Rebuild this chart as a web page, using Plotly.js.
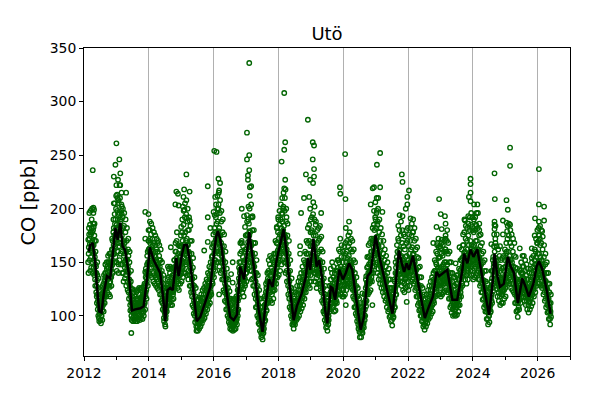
<!DOCTYPE html>
<html>
<head>
<meta charset="utf-8">
<script src="https://cdn.plot.ly/plotly-3.0.1.min.js"></script>
<style>html,body{margin:0;padding:0;background:#fff;}#chart{width:600px;height:400px;}</style>
</head>
<body>
<div id="chart"></div>
<script>
// Smoothed CO curve (decimal year, ppb)
const lineYear = [2012.15,2012.19,2012.27,2012.35,2012.40,2012.47,2012.54,2012.61,2012.71,2012.81,2012.88,2012.97,
2013.04,2013.12,2013.19,2013.27,2013.38,2013.48,2013.58,2013.74,2013.84,2013.94,
2014.03,2014.15,2014.25,2014.35,2014.44,2014.51,2014.58,2014.66,2014.74,2014.85,2014.92,
2015.02,2015.09,2015.18,2015.28,2015.38,2015.48,2015.59,2015.74,2015.90,
2016.00,2016.08,2016.13,2016.20,2016.26,2016.36,2016.51,2016.62,2016.72,2016.82,2016.94,
2017.10,2017.20,2017.28,2017.39,2017.51,2017.61,2017.71,2017.82,2017.95,
2018.05,2018.16,2018.26,2018.36,2018.47,2018.57,2018.72,2018.85,2018.91,2018.98,
2019.08,2019.18,2019.26,2019.34,2019.44,2019.51,2019.62,2019.67,2019.75,2019.88,2019.99,
2020.08,2020.18,2020.28,2020.39,2020.54,2020.64,2020.75,2020.85,2020.92,
2021.00,2021.11,2021.26,2021.41,2021.52,2021.62,2021.72,2021.80,2021.88,2021.96,
2022.03,2022.15,2022.25,2022.36,2022.52,2022.65,2022.77,2022.88,2022.96,
2023.21,2023.37,2023.52,2023.68,2023.73,2023.83,2023.93,
2024.02,2024.14,2024.29,2024.40,2024.50,2024.61,2024.67,2024.76,2024.84,2024.96,
2025.08,2025.17,2025.27,2025.39,2025.53,2025.63,2025.73,2025.87,2025.97,
2026.04,2026.14,2026.28,2026.40];
const lineCO = [160,166,168,149,127,104,103,121,137,135,155,182,
171,187,165,161,140,105,106,107,109,133,
164,152,146,140,118,95,124,126,124,154,137,
157,166,166,149,121,95,99,112,127,
155,174,179,172,162,131,99,96,101,146,134,
178,155,137,106,85,112,134,127,153,
166,181,158,124,96,109,121,137,154,143,
172,146,152,137,106,93,127,126,115,143,134,
140,149,143,118,87,99,137,141,158,
175,156,137,118,102,130,161,150,141,149,
143,156,140,120,98,109,118,141,137,
143,115,115,143,158,149,162,
155,162,137,118,101,130,158,137,127,130,
155,146,140,112,135,127,118,130,146,
151,144,124,102];

// Observations: half-month groups of eight readings, starting mid-February 2012
const obsStart = 2012.125;
const groupsPerYear = 24;
const obsCO = [
// 2012
[150,171,140,158,164,182,176,196],[172,152,167,185,142,161,198,178],[155,176,145,163,168,190,182,200],[178,150,170,165,140,160,186,196],
[145,166,158,152,138,175,186,170],[155,134,128,148,160,140,170,146],[122,140,128,118,112,133,150,138],[120,106,114,126,100,110,135,118],
[98,110,95,102,105,116,124,108],[108,96,103,113,93,100,120,110],[100,115,108,105,96,121,128,112],[125,110,119,130,104,116,138,122],
[118,133,112,124,128,140,148,136],[140,125,133,136,118,128,150,144],[129,146,122,134,138,141,156,150],[144,128,136,138,120,150,158,131],
[127,141,118,132,136,148,158,144],[155,136,128,150,147,162,172,141],[148,170,140,157,162,178,190,166],[182,158,150,175,171,195,205,186],
[165,190,155,176,181,200,212,170],
// 2013
[150,185,142,168,178,198,210,160],[190,160,176,178,140,148,205,168],[165,196,152,178,184,210,222,190],[158,188,148,172,180,204,215,195],
[175,148,140,160,166,192,200,182],[140,170,132,156,164,184,196,150],[168,145,135,158,161,178,190,152],[138,160,128,148,153,170,182,144],
[152,132,124,142,146,162,172,156],[122,140,116,130,134,150,160,128],[126,110,105,120,118,132,142,114],[100,112,96,104,107,118,125,110],
[110,98,95,106,103,115,122,112],[100,110,96,103,107,118,124,112],[112,98,95,108,106,104,122,116],[99,110,95,104,107,116,124,112],
[112,100,97,108,106,120,126,115],[101,112,96,105,108,117,125,113],[114,100,98,110,108,104,126,118],[102,113,97,106,109,120,127,116],
[116,104,100,110,112,124,130,120],[112,128,106,118,122,136,144,130],[140,124,116,135,132,148,156,142],[138,160,128,150,148,170,180,162],
// 2014
[150,170,140,160,163,180,188,172],[168,148,138,158,161,176,186,152],[145,162,136,152,157,172,182,166],[160,140,132,150,153,168,178,145],
[138,156,130,148,151,166,175,160],[155,136,128,145,148,162,172,140],[134,150,126,142,146,160,170,138],[148,132,124,140,143,156,166,152],
[128,146,120,136,140,152,162,133],[136,120,114,128,131,142,150,125],[112,124,106,116,120,130,138,126],[110,98,95,104,106,115,122,102],
[92,104,90,97,100,110,116,106],[122,108,104,115,118,128,134,112],[116,130,110,122,126,136,144,120],[132,118,112,127,125,140,146,122],
[117,130,110,122,126,136,144,128],[130,115,110,125,123,138,145,120],[122,138,116,130,133,145,152,126],[152,134,128,145,146,160,168,140],
[142,160,134,150,154,170,178,148],[150,132,126,142,144,158,166,137],[130,148,124,138,142,155,165,146],[156,138,130,148,150,165,175,144],
// 2015
[140,165,132,152,158,178,190,146],[170,145,136,160,163,185,198,154],[150,175,140,162,167,192,205,158],[178,148,140,165,170,195,208,156],
[150,172,138,160,166,188,200,180],[166,142,134,155,160,180,192,150],[138,158,128,146,151,170,184,144],[148,128,122,138,142,158,170,134],
[118,135,110,125,129,145,154,122],[122,108,102,114,117,128,136,112],[100,112,94,104,107,118,126,110],[102,90,86,97,96,108,115,93],
[90,102,86,95,97,108,115,100],[104,92,88,99,98,110,117,95],[94,106,90,100,101,114,120,97],[110,97,93,104,105,116,124,100],
[100,112,96,106,108,120,126,103],[117,104,98,110,112,124,130,107],[107,120,102,114,116,128,134,111],[125,111,106,118,120,132,140,115],
[115,130,110,121,124,138,146,119],[134,118,112,126,128,142,150,122],[128,145,120,136,139,155,164,132],[156,138,130,148,150,166,176,143],
// 2016
[145,168,136,158,161,182,194,152],[178,152,142,166,171,192,204,160],[160,186,150,172,178,200,212,168],[188,160,150,175,179,204,215,168],
[158,182,146,170,175,196,208,164],[175,150,140,162,168,188,198,156],[142,165,134,155,159,178,190,150],[152,134,124,143,146,165,176,138],
[122,140,114,130,134,150,160,126],[128,113,106,120,123,135,144,117],[106,120,100,112,115,126,134,109],[110,98,94,104,106,116,123,101],
[92,104,88,97,99,110,116,94],[102,91,87,96,98,108,115,93],[90,101,86,95,97,107,114,92],[103,91,87,98,97,109,116,94],
[93,105,88,98,100,112,118,96],[110,97,92,103,105,116,124,100],[114,128,106,120,123,135,145,117],[150,132,124,140,143,158,168,136],
[134,150,126,142,144,160,170,138],[146,128,122,138,140,155,165,134],[125,142,118,133,136,150,160,130],[152,135,128,144,146,162,175,140],
// 2017
[140,162,132,152,156,175,188,147],[176,152,144,165,169,190,202,158],[160,186,150,175,179,200,212,168],[178,150,142,165,169,192,204,158],
[142,166,134,155,159,180,192,150],[156,135,128,146,149,168,180,141],[128,146,120,136,140,158,168,132],[132,116,108,124,127,140,152,120],
[108,122,100,114,117,128,138,111],[110,98,93,104,106,116,124,101],[92,104,86,97,99,108,116,94],[96,84,80,90,91,100,108,87],
[82,92,78,86,88,97,104,84],[104,92,88,98,100,110,118,95],[102,116,96,108,111,122,130,105],[126,112,105,118,121,132,140,115],
[120,135,112,127,130,142,152,124],[140,124,116,132,134,148,156,128],[122,138,114,130,132,145,154,126],[134,120,112,127,129,142,152,123],
[124,140,116,131,134,148,158,128],[150,132,124,140,143,158,170,136],[140,158,130,148,152,168,182,145],[168,148,136,158,161,178,192,153],
// 2018
[150,172,138,160,164,185,198,156],[176,152,142,165,169,190,204,160],[158,182,148,172,175,196,210,166],[188,162,152,176,180,202,215,170],
[160,184,150,172,176,198,210,166],[174,150,140,163,167,188,200,158],[142,162,132,152,156,175,186,148],[148,128,120,138,141,158,170,133],
[116,132,108,124,127,142,152,120],[120,106,100,112,115,126,135,109],[97,108,92,102,104,114,122,99],[104,92,88,97,99,108,116,94],
[96,108,92,102,104,114,122,99],[114,100,96,107,109,120,128,104],[104,116,98,110,112,124,132,107],[120,106,100,113,115,128,136,110],
[110,124,104,116,119,132,140,113],[128,114,107,120,123,136,146,117],[118,134,110,125,128,142,152,122],[140,124,116,132,134,150,160,128],
[130,148,122,138,141,158,170,134],[158,138,130,148,151,168,182,144],[138,158,128,146,151,170,185,143],[152,132,126,142,146,165,178,138],
// 2019
[142,165,132,152,156,180,192,148],[178,150,142,165,169,195,206,160],[150,175,140,162,166,190,202,156],[164,140,132,152,155,175,188,147],
[135,155,126,145,148,168,180,140],[158,138,130,148,151,170,182,143],[140,160,130,148,152,172,184,144],[150,130,124,140,144,162,174,136],
[122,140,114,130,133,150,160,126],[126,112,104,118,121,135,144,115],[102,114,96,106,109,120,128,104],[104,93,89,98,100,110,117,95],
[90,102,86,95,97,107,114,92],[114,100,96,106,109,120,128,104],[112,128,106,119,122,134,144,116],[134,118,112,125,128,140,150,122],
[115,130,108,121,124,136,146,118],[124,110,104,117,119,130,140,113],[112,126,105,118,120,134,142,114],[135,120,112,126,129,142,152,123],
[128,145,120,135,138,152,162,131],[150,132,124,140,143,160,172,136],[128,146,120,137,140,155,166,133],[142,125,118,133,136,150,160,129],
// 2020
[124,144,118,132,137,155,165,128],[146,128,120,137,140,158,168,133],[130,150,124,140,143,160,170,136],[154,134,128,144,147,165,175,140],
[136,156,130,146,150,168,178,142],[152,134,128,144,147,162,172,139],[132,150,126,141,145,160,170,137],[142,124,118,133,136,152,162,129],
[116,132,108,124,127,140,150,120],[122,108,102,114,117,128,136,111],[100,112,95,106,108,118,126,103],[104,92,88,97,99,108,116,94],
[85,95,80,89,91,100,108,87],[96,84,80,89,91,100,108,87],[88,100,84,93,95,105,112,91],[106,93,89,99,101,112,120,96],
[106,120,100,112,115,126,134,109],[137,120,114,128,131,145,155,124],[130,146,120,137,140,155,166,133],[148,130,122,138,141,156,168,134],
[132,150,124,140,143,160,172,136],[160,140,132,150,153,170,182,146],[150,172,140,160,164,185,198,156],[180,158,146,168,172,192,206,163],
// 2021
[158,182,148,170,173,196,210,165],[174,150,140,162,166,188,200,157],[144,165,134,155,158,178,190,150],[160,138,130,148,152,170,182,145],
[134,154,126,144,147,165,176,140],[148,130,122,139,142,158,170,135],[126,142,118,134,137,152,162,130],[138,122,114,129,132,146,156,126],
[116,132,108,123,126,140,150,120],[126,112,104,118,121,134,144,115],[106,118,99,111,114,126,134,108],[112,100,95,106,108,118,126,103],
[96,108,91,101,103,114,121,98],[120,105,99,111,114,126,134,108],[116,132,108,123,126,140,150,120],[145,128,120,136,139,155,166,132],
[140,160,130,148,152,172,184,145],[170,148,138,158,161,180,194,153],[142,162,132,152,155,175,188,147],[156,136,128,146,149,168,180,141],
[132,152,124,142,145,165,176,138],[150,130,122,140,143,162,174,135],[134,155,126,144,147,168,180,140],[156,136,128,146,149,170,182,141],
// 2022
[132,152,124,142,145,165,176,138],[158,136,128,147,150,170,182,142],[140,162,132,150,154,175,186,146],[164,142,134,154,157,178,190,149],
[138,158,130,148,151,170,182,144],[150,132,124,141,144,162,172,137],[126,143,118,134,137,155,164,130],[135,118,110,126,129,145,154,122],
[112,128,105,119,122,136,146,116],[120,106,100,112,115,128,136,109],[100,112,95,105,108,118,126,103],[106,95,90,101,103,112,120,98],
[92,103,87,97,99,108,116,94],[106,95,90,100,102,112,120,97],[98,110,93,104,106,116,124,101],[114,102,97,108,110,120,128,105],
[105,118,99,110,113,124,132,108],[120,108,102,114,116,128,136,111],[110,124,104,117,119,132,140,114],[134,118,112,125,128,142,152,122],
[126,142,118,133,136,150,160,130],[148,130,122,139,142,158,168,135],[128,145,120,136,139,154,164,132],[145,128,120,136,139,155,165,132],
// 2023
[126,145,118,136,139,158,168,131],[146,128,120,137,140,156,166,133],[130,148,122,138,141,160,170,134],[150,130,123,140,142,162,172,135],
[132,150,124,140,143,160,170,136],[148,130,122,138,141,158,168,134],[124,140,116,131,134,150,160,128],[132,116,108,123,126,140,150,120],
[110,124,103,116,119,132,140,113],[120,106,100,113,116,128,136,110],[108,120,101,113,116,128,136,110],[121,106,100,114,116,130,138,110],
[108,122,101,113,116,130,138,110],[126,110,104,118,121,134,144,115],[118,134,110,125,128,142,152,122],[143,126,118,134,137,152,162,130],
[136,154,128,144,147,166,176,140],[166,146,138,156,159,178,190,151],[142,160,134,150,154,172,184,147],[158,138,130,148,151,170,182,144],
[142,162,134,150,154,175,186,147],[166,146,138,156,159,180,192,151],[150,170,142,160,163,185,196,155],[166,146,138,156,159,180,192,151],
// 2024
[142,165,134,152,156,178,190,148],[166,144,136,155,158,180,192,150],[146,170,138,158,161,184,196,153],[170,148,140,158,162,182,196,154],
[142,162,134,152,155,175,186,147],[154,134,128,144,147,165,176,140],[130,148,122,138,141,158,168,134],[140,122,115,130,133,150,160,126],
[116,133,108,124,127,142,152,120],[125,110,104,117,120,132,142,114],[104,116,97,109,112,124,130,106],[110,97,92,103,105,115,122,100],
[100,112,94,106,108,118,126,103],[125,110,104,117,120,132,142,114],[120,135,112,126,129,142,152,123],[155,138,130,146,149,165,176,142],
[142,160,134,150,154,172,184,147],[154,134,128,144,147,165,176,140],[125,142,118,133,136,152,162,130],[138,122,114,129,132,146,156,126],
[118,134,110,125,128,142,152,122],[135,120,112,126,129,144,154,123],[120,136,112,127,130,145,156,124],[142,124,116,132,135,152,162,129],
// 2025
[126,146,118,136,139,158,168,131],[160,138,132,148,152,172,184,145],[140,160,132,150,153,175,186,146],[156,136,130,146,149,168,180,142],
[134,152,126,143,146,165,176,139],[150,130,124,140,143,160,172,136],[130,146,122,138,141,156,168,134],[136,120,112,128,131,145,155,124],
[112,126,104,118,121,134,144,115],[118,105,99,112,114,124,132,108],[114,126,106,120,122,132,142,116],[134,120,112,126,129,140,150,123],
[126,140,118,132,135,146,156,129],[140,125,117,131,134,146,156,128],[122,135,114,127,130,142,152,124],[131,117,110,123,126,138,148,120],
[114,127,106,119,122,134,144,116],[124,110,103,116,119,130,140,113],[113,127,106,119,122,134,144,116],[132,117,109,123,126,140,150,120],
[120,136,112,127,130,145,156,124],[142,126,118,133,136,152,162,130],[130,148,122,139,142,160,172,135],[155,135,128,145,148,168,180,141],
// 2026
[136,158,130,147,150,170,182,143],[158,138,130,148,151,172,184,144],[136,155,128,145,148,168,180,141],[152,132,126,142,145,162,174,138],
[128,146,120,136,139,155,166,132],[140,122,114,130,133,148,158,126],[116,132,108,124,127,140,150,120],[125,110,103,117,120,130,140,114],
[104,116,97,109,112,122,130,106],[108,97,92,102,104,112,120,99]
];

// Individual high / low readings away from the main band
const peakYear = [2012.27,2012.29,2012.31,2012.30,2012.28,
2013.00,2013.09,2012.97,2013.12,2012.92,2013.05,2013.00,2013.10,2013.30,2013.02,2012.92,2013.06,2013.17,2013.89,2013.99,2013.89,2013.89,2013.46,2013.05,2013.15,
2014.28,2014.59,2014.68,2015.16,2014.85,2014.90,2015.09,2015.26,2015.07,2014.82,2014.92,2015.05,2015.10,2015.17,2015.00,2015.26,2015.82,2015.82,2016.02,2016.09,2016.00,2015.90,2015.82,2015.71,
2017.10,2017.03,2017.10,2017.03,2017.10,2017.06,2017.16,2017.12,2017.06,2016.15,2016.20,2016.17,2016.05,2016.87,2016.94,2017.03,2017.20,2016.97,2016.87,2016.59,2016.54,2016.59,2016.17,2016.10,2016.15,
2018.18,2018.21,2018.18,2018.10,2018.21,2018.18,2018.22,2018.91,2019.06,2019.10,2019.06,2019.10,2018.85,2018.98,2019.10,2019.07,2018.79,2018.95,2018.70,2018.98,2019.32,2020.06,2019.90,2019.91,2020.07,2018.67,2018.67,
2017.95,2018.00,2018.12,2018.15,2018.25,2019.00,2019.15,
2021.14,2021.04,2020.95,2020.91,2021.14,2021.08,2020.85,2021.04,2021.21,2020.18,2020.08,2021.81,2021.83,2022.03,2021.93,2021.83,2021.98,2021.98,2021.96,2020.08,2020.90,2020.59,2021.00,2021.05,
2022.08,2022.15,2022.96,2023.01,2023.14,2022.88,2023.04,2023.16,2023.21,2022.94,2023.04,2023.16,2022.78,2022.90,2023.01,2023.16,2022.96,2023.47,2023.59,2023.93,2023.93,2023.93,2024.04,2023.88,2023.76,2023.86,2023.93,
2025.15,2025.15,2024.67,2026.04,2024.68,2025.04,2025.08,2024.93,2025.04,2025.15,2024.93,2025.06,2024.67,2024.67,2024.67,2024.70,2024.57,2024.84,2024.14,2023.99,2024.10,2024.20,
2026.04,2026.20,2025.92,2026.04,2026.20,2025.91,2026.04,2026.14,2025.45,2025.82,2025.82,2025.99,2026.08];
const peakCO = [236,201,199,183,180,
261,246,241,233,230,227,222,222,215,213,205,208,202,197,195,172,141,84,195,198,
168,146,164,232,216,214,218,216,211,204,203,202,199,191,183,189,221,192,254,253,197,182,169,161,
336,271,250,246,236,231,221,220,227,228,224,217,211,200,193,194,193,183,168,150,139,131,120,195,200,
308,262,255,244,227,219,218,283,262,259,246,237,232,227,230,224,210,211,196,200,196,251,220,214,209,165,158,
183,190,195,200,192,190,185,
252,241,220,219,220,210,204,198,197,188,182,232,225,217,200,193,204,211,113,110,110,121,190,185,
191,178,209,195,193,183,181,186,180,172,171,175,168,166,163,162,155,149,164,228,223,215,204,211,189,193,207,
257,240,233,237,209,208,199,189,187,185,176,179,188,185,181,168,167,165,204,183,185,180,
204,202,191,188,189,175,175,179,163,163,154,168,166];

const xTicks = [2012,2014,2016,2018,2020,2022,2024,2026];
const yTicks = [100,150,200,250,300,350];

// Build observation trace (readings spread evenly through each half-month)
const obsX = [], obsY = [];
obsCO.forEach((grp, i) => {
  grp.forEach((v, j) => {
    obsX.push(obsStart + (i + (j + 0.5) / grp.length) / groupsPerYear);
    obsY.push(v);
  });
});
for (let k = 0; k < peakYear.length; k++) { obsX.push(peakYear[k]); obsY.push(peakCO[k]); }

const font = 'DejaVu Sans, sans-serif';
const traces = [
  {x: obsX, y: obsY, type: 'scatter', mode: 'markers',
   marker: {symbol: 'circle-open', size: 4.5, color: '#006400', line: {width: 1.35}},
   hoverinfo: 'skip', showlegend: false},
  {x: lineYear, y: lineCO, type: 'scatter', mode: 'lines',
   line: {color: '#000000', width: 2.5}, showlegend: false}
];
const layout = {
  width: 600, height: 400,
  margin: {l: 84, r: 30, t: 48, b: 44},
  paper_bgcolor: '#ffffff', plot_bgcolor: '#ffffff',
  font: {family: font, size: 13.9, color: '#000000'},
  title: {text: 'Utö', font: {family: font, size: 18, color: '#000'}, x: 0.545, xanchor: 'center', y: 0.915, yanchor: 'middle'},
  xaxis: {range: [2012, 2027], tickvals: xTicks, ticktext: xTicks.map(String),
    showgrid: true, gridcolor: '#b0b0b0', gridwidth: 1, zeroline: false,
    showline: true, mirror: true, linecolor: '#000', linewidth: 1,
    ticks: 'outside', ticklen: 4, tickcolor: '#000', tickfont: {size: 13.9},
    minor: {dtick: 1, tick0: 2012, ticks: 'outside', ticklen: 2.5, tickcolor: '#000', showgrid: false}},
  yaxis: {range: [62.5, 350], tickvals: yTicks, ticktext: yTicks.map(String),
    showgrid: false, zeroline: false,
    showline: true, mirror: true, linecolor: '#000', linewidth: 1,
    ticks: 'outside', ticklen: 4, tickcolor: '#000', tickfont: {size: 13.9},
    title: {text: 'CO [ppb]', font: {family: font, size: 19.4}, standoff: 8}}
};
Plotly.newPlot('chart', traces, layout, {staticPlot: true, displayModeBar: false});
</script>
</body>
</html>
